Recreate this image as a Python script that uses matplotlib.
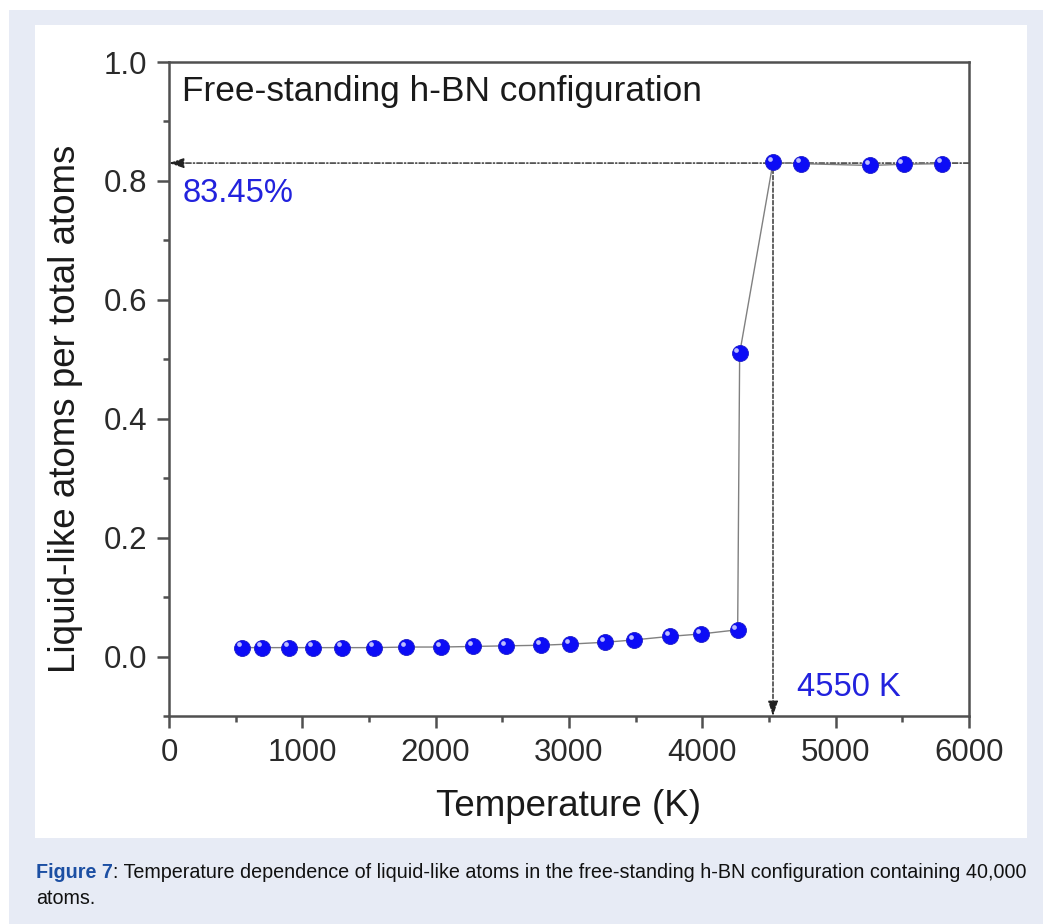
import matplotlib
matplotlib.use("Agg")
import matplotlib.pyplot as plt
from matplotlib.patches import Rectangle
from matplotlib.transforms import ScaledTranslation

# data
temp = [550, 700, 900, 1080, 1300, 1540, 1780, 2040, 2280, 2530, 2790, 3010,
        3270, 3490, 3760, 3990, 4265, 4280, 4530, 4740, 5260, 5510, 5800]
frac = [0.015, 0.015, 0.015, 0.015, 0.015, 0.015, 0.016, 0.016, 0.017, 0.018,
        0.019, 0.021, 0.024, 0.028, 0.034, 0.038, 0.045, 0.51, 0.831, 0.829,
        0.826, 0.828, 0.829]
x_ticks = [0, 1000, 2000, 3000, 4000, 5000, 6000]
y_ticks = [0.0, 0.2, 0.4, 0.6, 0.8, 1.0]
t_melt = 4530
f_max = 0.83
lbl_frac = "83.45%"
lbl_temp = "4550 K"

plt.rcParams['font.family'] = ['Liberation Sans', 'DejaVu Sans']

W, H = 1043, 924
fig = plt.figure(figsize=(W / 100, H / 100), dpi=100)
fig.patch.set_facecolor('white')

# page background + white panel
fig.patches.append(Rectangle((9 / W, 0), 1, 1 - 10 / H, transform=fig.transFigure,
                             facecolor='#e7ebf5', edgecolor='none', zorder=-10))
fig.patches.append(Rectangle((35 / W, 1 - 838 / H), (1027 - 35) / W, (838 - 25) / H,
                             transform=fig.transFigure, facecolor='white',
                             edgecolor='none', zorder=-9))

ax = fig.add_axes([169 / W, 1 - 716 / H, 800 / W, 654 / H])
ax.set_xlim(0, 6000)
ax.set_ylim(-0.1, 1.0)

spine_c = '#505050'
for s in ax.spines.values():
    s.set_color(spine_c)
    s.set_linewidth(1.8)

ax.set_xticks(x_ticks)
ax.set_yticks(y_ticks)
ax.set_yticklabels(['%.1f' % v for v in y_ticks])
ax.set_xticks([500 + 1000 * i for i in range(6)], minor=True)
ax.set_yticks([-0.1 + 0.2 * i for i in range(6)], minor=True)
ax.tick_params(which='major', direction='out', length=8.5, width=1.8,
               color=spine_c, labelsize=22.5, labelcolor='#2a2a2a', pad=7)
ax.tick_params(which='minor', direction='out', length=4.5, width=1.8, color=spine_c)

ax.set_xlabel('Temperature (K)', fontsize=26.5, color='#1a1a1a')
ax.set_ylabel('Liquid-like atoms per total atoms', fontsize=26.5, color='#1a1a1a')
ax.xaxis.set_label_coords(0.5, -(806 - 716) / 654)
ax.xaxis.label.set_va('center')
ax.yaxis.set_label_coords(-(169 - 66) / 800, (716 - 409) / 654)
ax.yaxis.label.set_va('center')

# data line and sphere markers
ax.plot(temp, frac, color='#808080', lw=1.0, zorder=3)
ax.plot(temp, frac, ls='none', marker='o', ms=11.5, mfc='#0c0cf6',
        mec='#1c1cc8', mew=0.6, zorder=5)
hl = ax.transData + ScaledTranslation(-2.3 / 72, 2.3 / 72, fig.dpi_scale_trans)
ax.plot(temp, frac, ls='none', marker='o', ms=3.4, mfc='#d0d0ff', mec='none',
        alpha=0.9, transform=hl, zorder=6)

# guide arrows
ax.annotate('', xy=(0, f_max), xytext=(6000, f_max),
            arrowprops=dict(arrowstyle='-|>,head_length=0.9,head_width=0.3',
                            linestyle=(0, (4, 1.5, 1, 1.5)), lw=1.0,
                            color='#222222', shrinkA=0, shrinkB=0), zorder=2)
ax.annotate('', xy=(t_melt, -0.1), xytext=(t_melt, f_max),
            arrowprops=dict(arrowstyle='-|>,head_length=0.9,head_width=0.3',
                            linestyle=(0, (3, 1.5)), lw=1.0,
                            color='#222222', shrinkA=0, shrinkB=0), zorder=2)

ax.text(0.016, 0.955, 'Free-standing h-BN configuration', transform=ax.transAxes,
        fontsize=25.4, color='#1a1a1a', va='center', ha='left')
ax.text(0.017, (716 - 193) / 654, lbl_frac, transform=ax.transAxes,
        fontsize=23.5, color='#2222dd', va='center', ha='left')
ax.text((797 - 169) / 800, (716 - 687) / 654, lbl_temp, transform=ax.transAxes,
        fontsize=23.5, color='#2222dd', va='center', ha='left')

# caption
cap_font = ['Liberation Sans Narrow', 'Liberation Sans', 'DejaVu Sans']
t1 = fig.text(36 / W, 1 - 873 / H, 'Figure 7', fontsize=14.2, fontweight='bold',
              color='#1c4fa3', va='center', ha='left', family=cap_font)
fig.canvas.draw()
bb = t1.get_window_extent()
fig.text(bb.x1 / W, 1 - 873 / H,
         ': Temperature dependence of liquid-like atoms in the free-standing h-BN '
         'configuration containing 40,000',
         fontsize=14.2, color='#111111', va='center', ha='left', family=cap_font)
fig.text(36 / W, 1 - 899 / H, 'atoms.', fontsize=14.2, color='#111111',
         va='center', ha='left', family=cap_font)

fig.savefig('out.png', dpi=100)
